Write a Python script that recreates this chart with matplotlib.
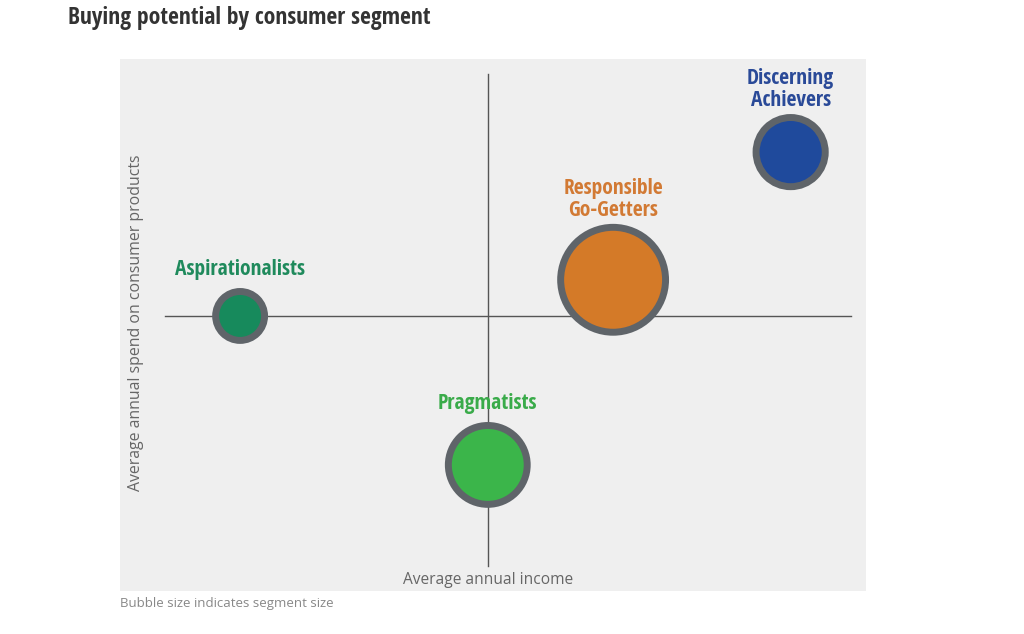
import matplotlib
matplotlib.use("Agg")
import matplotlib.pyplot as plt
from matplotlib import font_manager
import numpy as np

# segment data (arbitrary units, origin = market average)
segments = ["Aspirationalists", "Pragmatists", "Responsible\nGo-Getters", "Discerning\nAchievers"]
income = [-3.32, 0.0, 1.68, 4.06]
spend = [0.0, -2.80, 0.68, 3.08]
segment_size = [10, 26, 46, 20]
fill_colors = ["#178a5c", "#3bb54a", "#d47a28", "#1f4a9c"]
label_colors = ["#1f8a5c", "#3aab4a", "#d27a34", "#2a4a98"]

# pick a condensed font if one is installed
names = {f.name for f in font_manager.fontManager.ttflist}
cond_name = "DejaVu Sans"
for cand in ["Open Sans Condensed", "Roboto Condensed", "Liberation Sans Narrow",
             "DejaVu Sans Condensed", "Noto Sans Condensed"]:
    if cand in names:
        cond_name = cand
        break
cond = [cond_name, "DejaVu Sans"]
body = ["Open Sans", "DejaVu Sans"]

fig = plt.figure(figsize=(10.24, 6.34), dpi=100)
ax = fig.add_axes([120/1024, 1-591/634, 746/1024, 532/634])
ax.set_facecolor("#efefef")
ax.set_xlim(-4.93, 5.07)
ax.set_ylim(-5.17, 4.83)
for s in ax.spines.values():
    s.set_visible(False)
ax.set_xticks([])
ax.set_yticks([])

# quadrant lines
ax.plot([-4.33, 4.87], [0, 0], color="#555555", lw=1.0, zorder=1)
ax.plot([0, 0], [-4.7, 4.55], color="#555555", lw=1.0, zorder=1)

sizes = np.array(segment_size) * 124
ax.scatter(income, spend, s=sizes, c=fill_colors, edgecolors="#5f6469",
           linewidths=5, zorder=3)

for name, x, y, sz, col in zip(segments, income, spend, sizes, label_colors):
    r = np.sqrt(sz) / 2 + 2.5  # outer radius in points
    extra = name.count("\n") * 3.2
    ax.annotate(name, (x, y), xytext=(0, r + 5.5 - extra), textcoords="offset points",
                ha="center", va="bottom", fontsize=15.5, fontweight="bold",
                color=col, family=cond, fontstretch="condensed", linespacing=1.05)

ax.text(0, -4.96, "Average annual income", ha="center", va="center",
        fontsize=11.2, color="#666666", family=body)
ax.text(-4.71, -0.13, "Average annual spend on consumer products", rotation=90,
        ha="center", va="center", fontsize=11.4, color="#666666", family=body)

fig.text(68/1024, 1-18/634, "Buying potential by consumer segment", ha="left",
         va="center", fontsize=17, fontweight="bold", color="#333333",
         family=cond, fontstretch="condensed")
fig.text(120/1024, 1-603/634, "Bubble size indicates segment size", ha="left",
         va="center", fontsize=9.5, color="#888888", family=body)

fig.savefig("out.png", dpi=100, facecolor="white")
